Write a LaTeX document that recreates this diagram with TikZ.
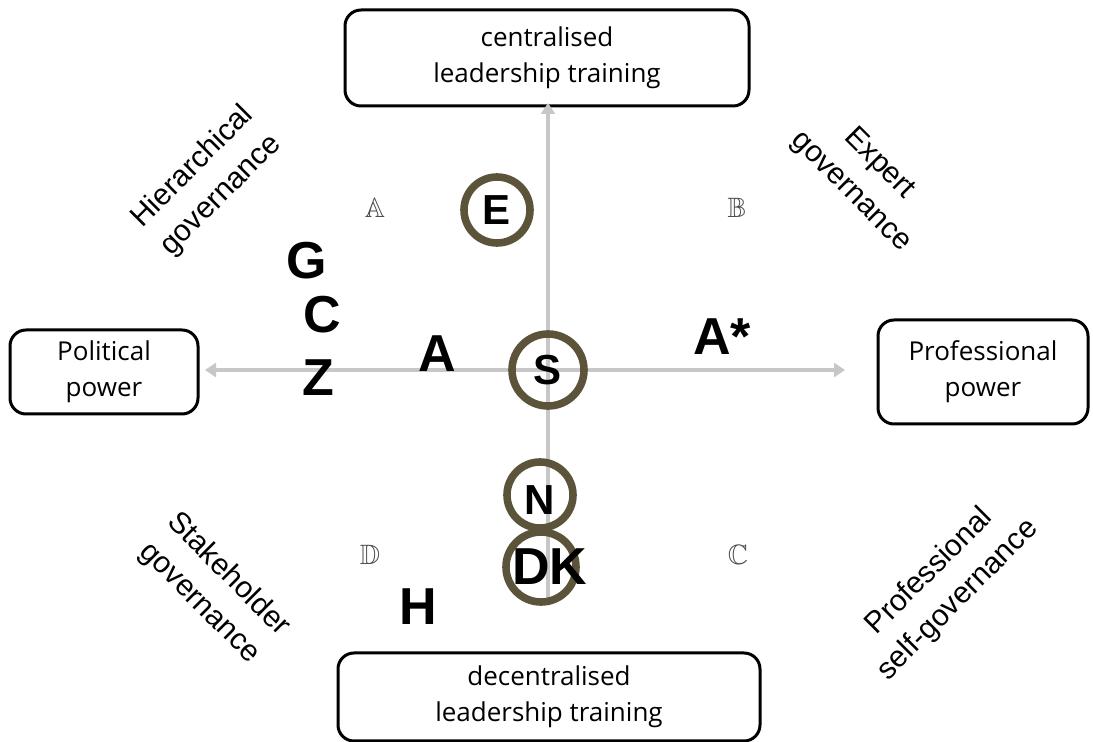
\documentclass[tikz,border=0pt]{standalone}
\usepackage{amssymb}
\usepackage{xcolor}
\usepackage{fontspec}
\setmainfont{Liberation Sans}
\newfontfamily\boxfont{Open Sans}
\usetikzlibrary{arrows.meta,positioning}
\definecolor{ringcol}{RGB}{92,84,58}

\begin{document}
\begin{tikzpicture}[x=0.5pt, y=-0.5pt,
    pole/.style={rectangle, draw=black, line width=1.5pt, rounded corners=8pt, align=center, inner sep=0pt, font=\boxfont\fontsize{13}{18}\selectfont},
    axis/.style={draw=black!22, line width=1.6pt},
    tip/.style={-{Triangle[width=7pt, length=5.5pt]}},
    ring/.style={circle, draw=ringcol, line width=3.8pt, minimum size=33pt, inner sep=0pt},
    country/.style={font=\fontsize{26}{26}\selectfont\bfseries, inner sep=0pt},
    small/.style={font=\fontsize{21}{21}\selectfont\bfseries, inner sep=0pt},
    quad/.style={text=black!70, font=\fontsize{14}{14}\selectfont},
    gov/.style={align=center, font=\fontsize{15}{20}\selectfont}
]
    \useasboundingbox (0,0) rectangle (1093,742);

    % Four poles
    \node [pole, minimum width=202pt, minimum height=48pt] (central) at (547,58) {centralised\\leadership training};
    \node [pole, minimum width=211pt, minimum height=44pt] (decentral) at (549,697) {decentralised\\leadership training};
    \node [pole, minimum width=94pt, minimum height=42pt] (political) at (104,372) {Political\\power};
    \node [pole, minimum width=105pt, minimum height=52pt] (professional) at (983,372) {Professional\\power};

    % Axes
    \coordinate (origin) at (548,370);
    \coordinate (left end) at (205,370);
    \coordinate (right end) at (845,370);
    \coordinate (top end) at (548,103);
    \coordinate (bottom end) at (548,605);
    \draw [axis, tip] (origin) -- (left end);
    \draw [axis, tip] (origin) -- (right end);
    \draw [axis, tip] (origin) -- (top end);
    \draw [axis] (origin) -- (bottom end);

    % Governance types
    \node [gov, rotate=45] (hier) at (207,181) {Hierarchical\\governance};
    \node [gov, rotate=-45] (expert) at (865,178) {Expert\\governance};
    \node [gov, rotate=-45] (stake) at (214,589) {Stakeholder\\governance};
    \node [gov, rotate=45] (selfgov) at (944,586) {Professional\\self-governance};

    % Quadrant letters
    \node [quad] (qA) at (375,208) {$\mathbb{A}$};
    \node [quad] (qB) at (737,208) {$\mathbb{B}$};
    \node [quad] (qC) at (738,555) {$\mathbb{C}$};
    \node [quad] (qD) at (370,555) {$\mathbb{D}$};

    % Rings
    \node [ring] (ringE) at (497,210) {};
    \node [ring, minimum size=36pt] (ringS) at (548,370) {};
    \node [ring] (ringN) at (540,495) {};
    \node [ring, minimum size=35pt] (ringDK) at (541,567) {};

    % Countries
    \node [small] (E) at (ringE) {E};
    \node [small] (S) at (ringS) {S};
    \node [small] (N) at (540,500) {N};
    \node [country] (DK) at (550,567) {DK};
    \node [country] (G) at (307,261) {G};
    \node [country] (C) at (322,315) {C};
    \node [country] (Z) at (318,378) {Z};
    \node [country] (A) at (437,354) {A};
    \node [country] (Astar) at (722,337) {A*};
    \node [country] (H) at (418,607) {H};
\end{tikzpicture}
\end{document}
